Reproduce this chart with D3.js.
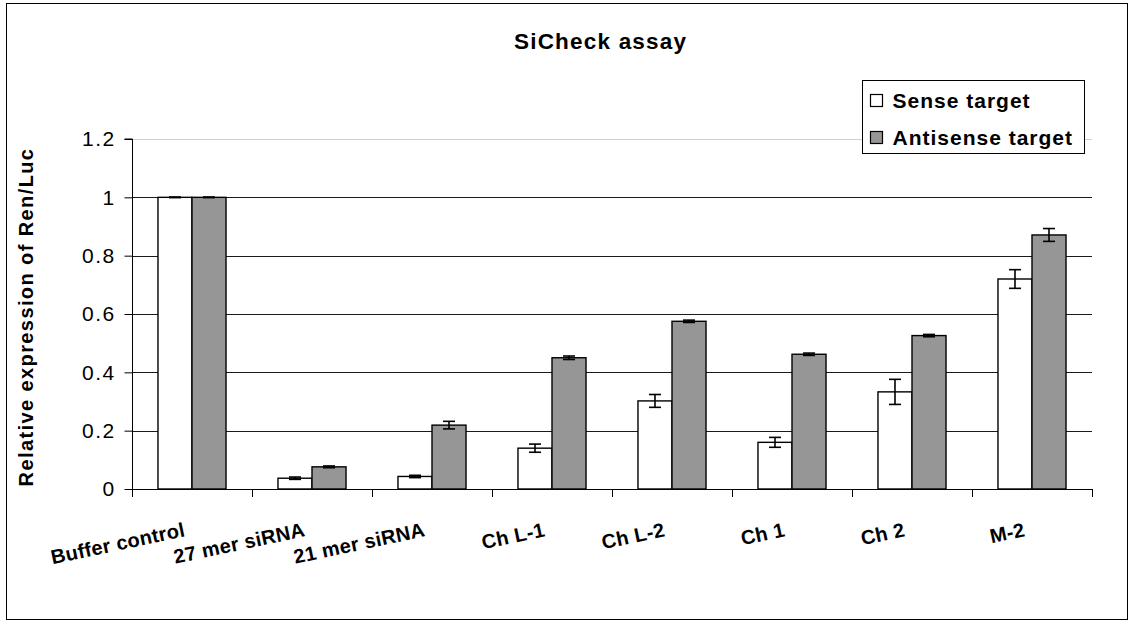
<!DOCTYPE html>
<html>
<head>
<meta charset="utf-8">
<script src="https://cdn.jsdelivr.net/npm/d3@7"></script>
<style>
  html, body { margin: 0; padding: 0; background: #fff; }
  svg { display: block; font-family: Arial, "Liberation Sans", sans-serif; }
</style>
</head>
<body>
<div id="chart"></div>
<script>
const CATEGORIES = ['Buffer control', '27 mer siRNA', '21 mer siRNA', 'Ch L-1', 'Ch L-2', 'Ch 1', 'Ch 2', 'M-2'];
const SERIES_NAMES = ['Sense target', 'Antisense target'];
const SENSE = [1.0, 0.037, 0.043, 0.14, 0.302, 0.16, 0.333, 0.72];
const SENSE_ERR = [0.001, 0.004, 0.004, 0.014, 0.022, 0.017, 0.043, 0.032];
const ANTISENSE = [1.0, 0.076, 0.219, 0.45, 0.575, 0.462, 0.526, 0.871];
const ANTISENSE_ERR = [0.001, 0.003, 0.013, 0.006, 0.004, 0.004, 0.004, 0.022];
const Y_TICKS = [0, 0.2, 0.4, 0.6, 0.8, 1, 1.2];
const COLORS = ['#ffffff', '#969696'];

const W = 1133, H = 624;
const plot = { left: 132, right: 1092, top: 139, bottom: 489 };

const svg = d3.select('#chart').append('svg')
  .attr('width', W)
  .attr('height', H);

// chart frame
svg.append('rect')
  .attr('x', 6.5).attr('y', 3.5)
  .attr('width', 1121).attr('height', 616)
  .attr('fill', '#fff')
  .attr('stroke', '#000')
  .attr('stroke-width', 1);

const x0 = d3.scaleBand()
  .domain(CATEGORIES)
  .range([plot.left, plot.right])
  .paddingInner(0.433)
  .paddingOuter(0.2165);

const x1 = d3.scaleBand()
  .domain(SERIES_NAMES)
  .range([0, x0.bandwidth()]);

const y = d3.scaleLinear()
  .domain([0, 1.2])
  .range([plot.bottom, plot.top]);

// gridlines
const grid = svg.append('g').attr('class', 'grid');
grid.selectAll('line')
  .data(Y_TICKS.filter(t => t > 0))
  .join('line')
  .attr('x1', plot.left).attr('x2', plot.right)
  .attr('y1', d => Math.round(y(d)) + 0.5)
  .attr('y2', d => Math.round(y(d)) + 0.5)
  .attr('stroke', d => d === 1.2 ? '#d0d0d0' : '#1a1a1a')
  .attr('stroke-width', 1);

// bars
const data = CATEGORIES.map((c, i) => ({
  cat: c,
  values: [
    { name: SERIES_NAMES[0], v: SENSE[i], e: SENSE_ERR[i], color: COLORS[0] },
    { name: SERIES_NAMES[1], v: ANTISENSE[i], e: ANTISENSE_ERR[i], color: COLORS[1] },
  ],
}));

const groups = svg.append('g').selectAll('g')
  .data(data)
  .join('g')
  .attr('transform', d => `translate(${x0(d.cat)},0)`);

groups.selectAll('rect')
  .data(d => d.values)
  .join('rect')
  .attr('x', d => x1(d.name))
  .attr('y', d => y(d.v))
  .attr('width', x1.bandwidth())
  .attr('height', d => y(0) - y(d.v))
  .attr('fill', d => d.color)
  .attr('stroke', '#000')
  .attr('stroke-width', 1.4);

// error bars
const cap = 6;
const err = groups.selectAll('g.err')
  .data(d => d.values)
  .join('g')
  .attr('class', 'err')
  .attr('transform', d => `translate(${x1(d.name) + x1.bandwidth() / 2},0)`)
  .attr('stroke', '#000')
  .attr('stroke-width', 1.6);

err.append('line')
  .attr('x1', 0).attr('x2', 0)
  .attr('y1', d => y(d.v + d.e)).attr('y2', d => y(d.v - d.e));
err.append('line')
  .attr('x1', -cap).attr('x2', cap)
  .attr('y1', d => y(d.v + d.e)).attr('y2', d => y(d.v + d.e));
err.append('line')
  .attr('x1', -cap).attr('x2', cap)
  .attr('y1', d => y(d.v - d.e)).attr('y2', d => y(d.v - d.e));

// y axis
svg.append('g')
  .attr('transform', `translate(${plot.left + 0.5},0)`)
  .call(d3.axisLeft(y).tickValues(Y_TICKS).tickFormat(d3.format('')).tickSize(8).tickPadding(9))
  .call(ax => ax.select('.domain').attr('stroke', '#000').attr('d', `M-8,${y(1.2)}H0V${y(0)}`))
  .call(ax => ax.selectAll('.tick line').attr('stroke', '#000'))
  .call(ax => ax.selectAll('.tick text')
    .attr('font-size', '21px')
    .attr('letter-spacing', '1.4px')
    .attr('font-family', 'Arial, "Liberation Sans", sans-serif')
    .attr('fill', '#000'));

// x axis line + ticks at category boundaries
const xAxis = svg.append('g');
xAxis.append('line')
  .attr('x1', plot.left).attr('x2', plot.right)
  .attr('y1', plot.bottom + 0.5).attr('y2', plot.bottom + 0.5)
  .attr('stroke', '#000');
const step = x0.step();
xAxis.selectAll('line.tick')
  .data(d3.range(CATEGORIES.length + 1))
  .join('line')
  .attr('class', 'tick')
  .attr('x1', i => Math.round(plot.left + i * step) + 0.5)
  .attr('x2', i => Math.round(plot.left + i * step) + 0.5)
  .attr('y1', plot.bottom).attr('y2', plot.bottom + 8)
  .attr('stroke', '#000');

// category labels, slanted
xAxis.selectAll('text')
  .data(CATEGORIES)
  .join('text')
  .attr('transform', d => `translate(${x0(d) + x0.bandwidth() / 2 - 6},536) rotate(-12)`)
  .attr('text-anchor', 'end')
  .attr('font-size', '20px')
  .attr('letter-spacing', '0.3px')
  .attr('font-weight', 'bold')
  .attr('fill', '#000')
  .text(d => d);

// y axis title
svg.append('text')
  .attr('transform', `translate(33,317) rotate(-90)`)
  .attr('text-anchor', 'middle')
  .attr('font-size', '20px')
  .attr('letter-spacing', '1.4px')
  .attr('font-weight', 'bold')
  .text('Relative expression of Ren/Luc');

// title
svg.append('text')
  .attr('x', 514)
  .attr('y', 49)
  .attr('font-size', '22.5px')
  .attr('letter-spacing', '1.2px')
  .attr('font-weight', 'bold')
  .text('SiCheck assay');

// legend
const legend = svg.append('g').attr('transform', 'translate(862.5,80.5)');
legend.append('rect')
  .attr('width', 222).attr('height', 73)
  .attr('fill', '#fff')
  .attr('stroke', '#000');
const li = legend.selectAll('g')
  .data(SERIES_NAMES)
  .join('g')
  .attr('transform', (d, i) => `translate(0,${i * 37})`);
li.append('rect')
  .attr('x', 8).attr('y', 14)
  .attr('width', 12).attr('height', 12)
  .attr('fill', (d, i) => COLORS[i])
  .attr('stroke', '#000')
  .attr('stroke-width', 1.2);
li.append('text')
  .attr('x', 30).attr('y', 27.5)
  .attr('font-size', '21px')
  .attr('letter-spacing', '1px')
  .attr('font-weight', 'bold')
  .text(d => d);
</script>
</body>
</html>
